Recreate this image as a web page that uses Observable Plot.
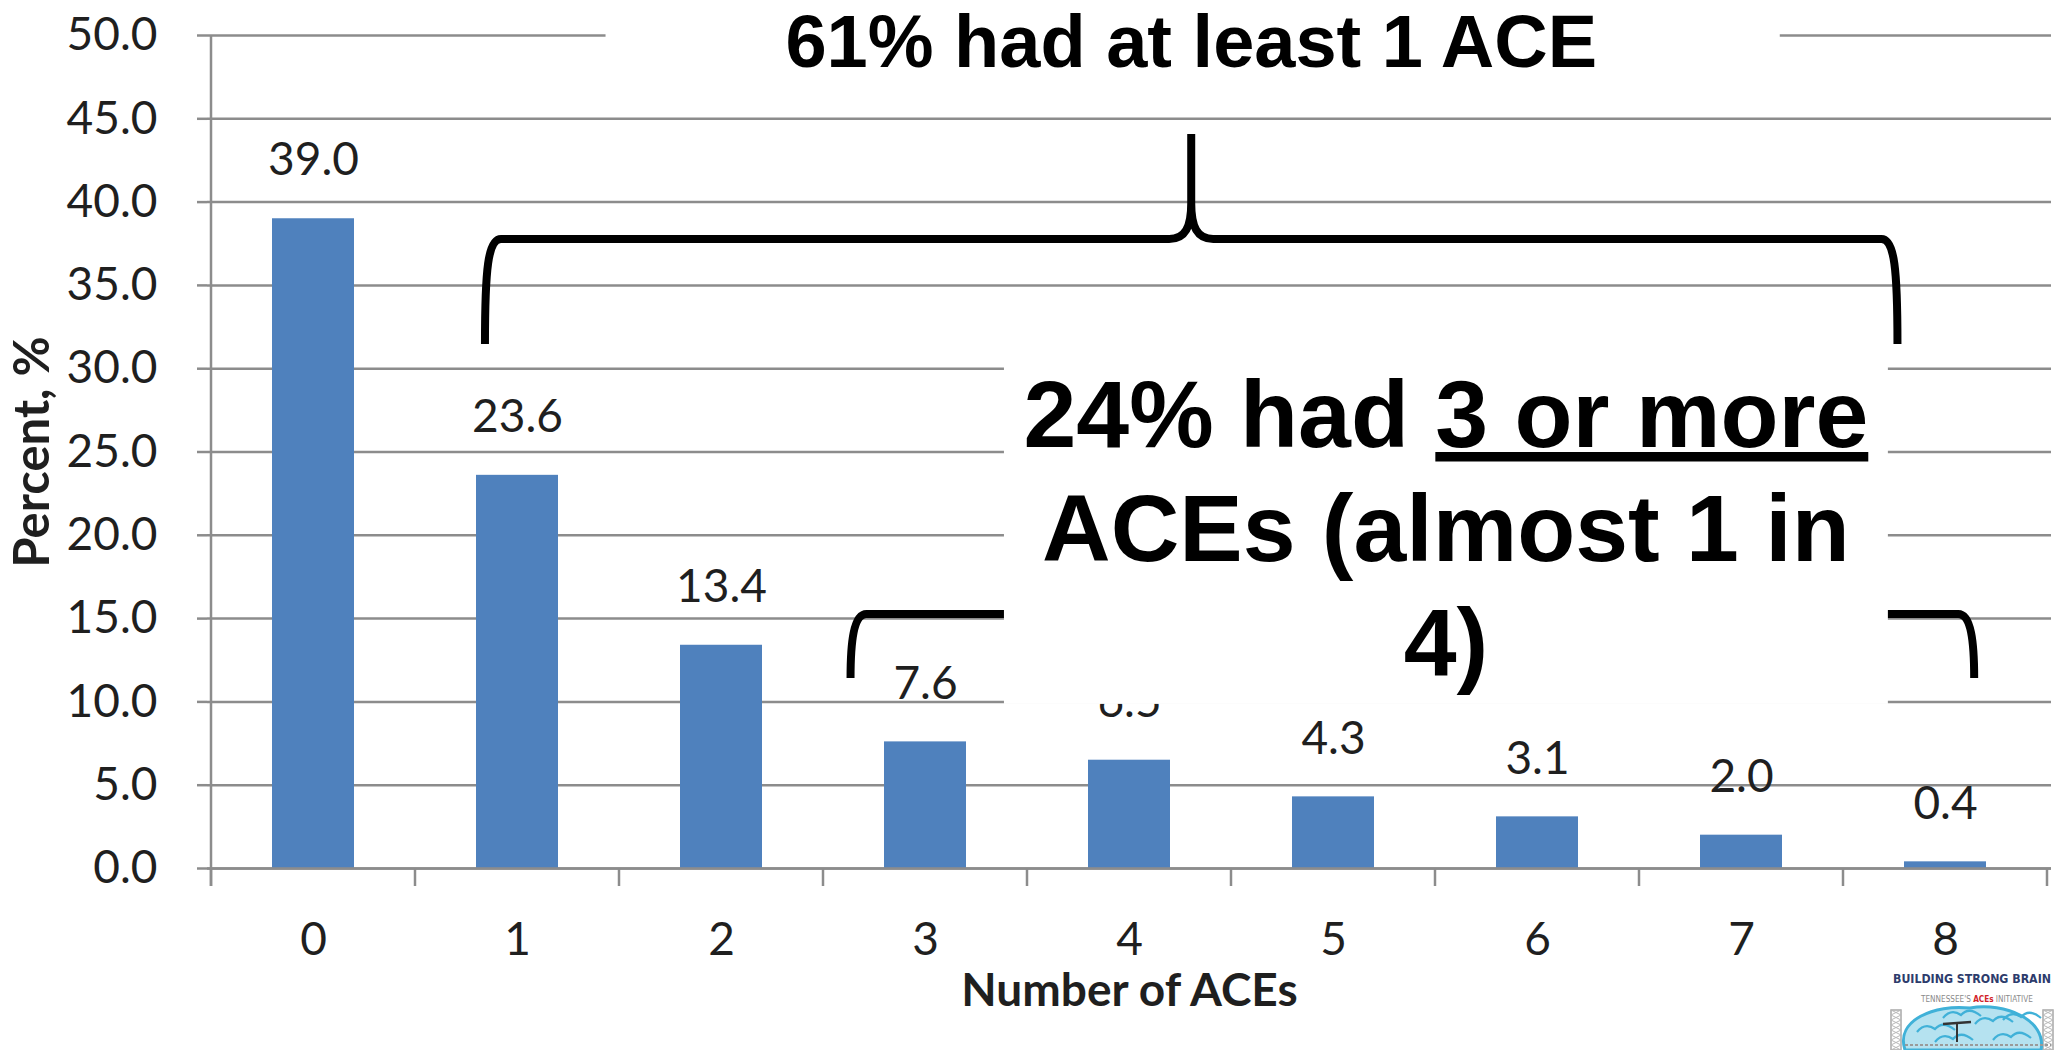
<!DOCTYPE html>
<html>
<head>
<meta charset="utf-8">
<script src="https://cdn.jsdelivr.net/npm/d3@7"></script>
<script src="https://cdn.jsdelivr.net/npm/@observablehq/plot@0.6"></script>
<style>
  html, body { margin: 0; padding: 0; background: #fff; }
  #chart svg { display: block; }
</style>
</head>
<body>
<div id="chart"></div>
<script>
// ---- data ----
const categories = ["0", "1", "2", "3", "4", "5", "6", "7", "8"];
const percents = [39.0, 23.6, 13.4, 7.6, 6.5, 4.3, 3.1, 2.0, 0.4];
const yTicks = [0, 5, 10, 15, 20, 25, 30, 35, 40, 45, 50];
const xTitle = "Number of ACEs";
const yTitle = "Percent, %";
const note1 = "61% had at least 1 ACE";
const note2Lines = [["24% had ", "3 or more"], ["ACEs (almost 1 in"], ["4)"]];
const logoTitle = "BUILDING STRONG BRAIN";
const logoSub = ["TENNESSEE'S ", "ACEs", " INITIATIVE"];

const table = categories.map((n, i) => ({n, pct: percents[i]}));

// ---- annotation anchors (category + fraction of a band step, y in percent) ----
const brace1 = {from: ["1", -0.157], to: ["8", -0.233], top: 37.75, end: 31.45, peak: 44.06};
const brace2 = {from: ["3", -0.365], to: ["8", 0.143], top: 15.25, end: 11.4, peak: 20};
const note1Box = {from: ["1", 0.434], to: ["7", 0.19], y1: 46.3, y2: 53, baseline: 48.1};
const note2Box = {from: ["3", 0.387], to: ["7", 0.72], y1: 9.85, y2: 31.1, baselines: [25.27, 18.43, 11.58]};

const gridColor = "#8c8c8c";
const barColor = "#4f81bd";
const textColor = "#1f1f1f";
const noteFont = "'Liberation Sans', Arial, sans-serif";

function helpers(x) {
  const bw = x.bandwidth();
  const step = x(categories[1]) - x(categories[0]);
  const px = ([c, f]) => x(c) + bw / 2 + f * step;
  return {bw, step, px};
}

function axisDecor(index, scales) {
  const {x, y} = scales;
  const {bw, step} = helpers(x);
  const gap = (step - bw) / 2;
  const y0 = y(0);
  const edges = categories.map(c => x(c) - gap).concat([x(categories[categories.length - 1]) + bw + gap]);
  const g = d3.create("svg:g").attr("stroke", gridColor).attr("stroke-width", 2.5);
  g.selectAll("line.t").data(edges).join("line").attr("class", "t")
    .attr("x1", d => d).attr("x2", d => d).attr("y1", y0).attr("y2", y0 + 18);
  g.append("line").attr("x1", edges[0]).attr("x2", edges[0]).attr("y1", y(yTicks[yTicks.length - 1])).attr("y2", y0 + 18);
  return g.node();
}

function bracePath(b, x, y) {
  const {px} = helpers(x);
  const L = px(b.from), R = px(b.to), C = (L + R) / 2;
  const T = y(b.top), B = y(b.end), P = y(b.peak);
  const k = Math.min(30, (B - T) * 0.45);
  return [
    `M${L},${B} C${L},${T + k} ${L + 3},${T} ${L + 16},${T}`,
    `H${C - 22} C${C - 6},${T} ${C},${T - 12} ${C},${T - 36} V${P}`,
    `M${C},${T - 36} C${C},${T - 12} ${C + 6},${T} ${C + 22},${T}`,
    `H${R - 16} C${R - 3},${T} ${R},${T + k} ${R},${B}`
  ].join(" ");
}

function annotations(index, scales) {
  const {x, y} = scales;
  const {px} = helpers(x);
  const g = d3.create("svg:g");
  g.append("path").attr("d", bracePath(brace1, x, y)).attr("fill", "none").attr("stroke", "#000").attr("stroke-width", 8);
  g.append("path").attr("d", bracePath(brace2, x, y)).attr("fill", "none").attr("stroke", "#000").attr("stroke-width", 8);
  const n1x1 = px(note1Box.from), n1x2 = px(note1Box.to);
  g.append("rect").attr("x", n1x1).attr("width", n1x2 - n1x1)
    .attr("y", y(note1Box.y2)).attr("height", y(note1Box.y1) - y(note1Box.y2)).attr("fill", "#fff");
  const c1 = (px(brace1.from) + px(brace1.to)) / 2;
  g.append("text").attr("x", c1).attr("y", y(note1Box.baseline))
    .attr("text-anchor", "middle").attr("font-family", noteFont).attr("font-weight", "bold")
    .attr("font-size", 74).attr("fill", "#000").text(note1);
  const n2x1 = px(note2Box.from), n2x2 = px(note2Box.to);
  g.append("rect").attr("x", n2x1).attr("width", n2x2 - n2x1)
    .attr("y", y(note2Box.y2)).attr("height", y(note2Box.y1) - y(note2Box.y2)).attr("fill", "#fff");
  const c2 = (n2x1 + n2x2) / 2;
  note2Lines.forEach((parts, i) => {
    const t = g.append("text").attr("x", c2).attr("y", y(note2Box.baselines[i]))
      .attr("text-anchor", "middle").attr("font-family", noteFont).attr("font-weight", "bold")
      .attr("font-size", 95).attr("fill", "#000").style("white-space", "pre");
    parts.forEach((p, j) => {
      const s = t.append("tspan").text(p);
      if (i === 0 && j === 1) s.style("text-decoration", "underline");
    });
  });
  return g.node();
}

function logo(index, scales, values, dims) {
  const W = dims.width, H = dims.height;
  const g = d3.create("svg:g").attr("text-anchor", "start");
  // scaffolding
  [[W - 164, 10], [W - 12, 10]].forEach(([sx, sw]) => {
    g.append("rect").attr("x", sx).attr("y", H - 40).attr("width", sw).attr("height", 40)
      .attr("fill", "none").attr("stroke", "#a8a8a8").attr("stroke-width", 1.5);
    g.append("path").attr("d", d3.range(0, 40, 5).map(o => `M${sx},${H - 40 + o} l${sw},5 M${sx + sw},${H - 40 + o} l${-sw},5`).join(" "))
      .attr("stroke", "#b8b8b8").attr("stroke-width", 1).attr("fill", "none");
  });
  // brain
  g.append("path")
    .attr("d", `M${W - 150},${H} C${W - 160},${H - 30} ${W - 120},${H - 46} ${W - 85},${H - 42} C${W - 50},${H - 48} ${W - 8},${H - 30} ${W - 14},${H} Z`)
    .attr("fill", "#b5e2f0").attr("stroke", "#40b1d8").attr("stroke-width", 3);
  const folds = [[W - 138, H - 18], [W - 112, H - 32], [W - 80, H - 26], [W - 52, H - 30], [W - 120, H - 8], [W - 62, H - 10]];
  folds.forEach(([a, b]) => {
    g.append("path").attr("d", `M${a},${b} q8,-10 18,-3 q8,-9 20,1`).attr("fill", "none")
      .attr("stroke", "#40b1d8").attr("stroke-width", 2.2);
  });
  // workers
  g.append("line").attr("x1", W - 112).attr("x2", W - 84).attr("y1", H - 26).attr("y2", H - 28).attr("stroke", "#333").attr("stroke-width", 2.5);
  g.append("line").attr("x1", W - 98).attr("x2", W - 98).attr("y1", H - 27).attr("y2", H - 8).attr("stroke", "#333").attr("stroke-width", 2);
  g.append("line").attr("x1", W - 150).attr("x2", W - 4).attr("y1", H - 5).attr("y2", H - 5)
    .attr("stroke", "#9a9a9a").attr("stroke-width", 2).attr("stroke-dasharray", "3,2");
  // texts (font size fitted to width after mounting)
  g.append("text").attr("class", "logo-fit").attr("data-fit", 158).attr("x", W - 162).attr("y", H - 67)
    .attr("font-family", "'Liberation Sans Narrow', 'DejaVu Sans Condensed', sans-serif").attr("font-weight", "bold")
    .attr("font-size", 14).attr("fill", "#2d3c6c").text(logoTitle);
  const t = g.append("text").attr("class", "logo-fit").attr("data-fit", 112).attr("x", W - 134).attr("y", H - 48)
    .attr("font-family", "'Liberation Sans Narrow', 'DejaVu Sans Condensed', sans-serif").attr("font-size", 9).attr("fill", "#8a8a8a")
    .style("white-space", "pre");
  logoSub.forEach((p, i) => {
    const s = t.append("tspan").text(p);
    if (i === 1) s.attr("fill", "#d2232a").attr("font-weight", "bold");
  });
  return g.node();
}

const chart = Plot.plot({
  width: 2055,
  height: 1050,
  marginTop: 35,
  marginLeft: 207,
  marginRight: 4,
  marginBottom: 182,
  style: {fontFamily: "Lato, sans-serif", fontSize: "46px", color: textColor, background: "#fff"},
  x: {domain: categories, paddingInner: 0.6, paddingOuter: 0.3},
  y: {domain: [0, 50]},
  marks: [
    Plot.gridY(yTicks, {stroke: gridColor, strokeOpacity: 1, strokeWidth: 2.5}),
    Plot.axisY({ticks: yTicks, tickFormat: d => d.toFixed(1), tickSize: 10, tickPadding: 40,
      stroke: gridColor, strokeWidth: 2.5, fill: textColor, label: null, fontSize: 46}),
    Plot.axisX({tickSize: 0, tickPadding: 54, fill: textColor, label: null, fontSize: 46}),
    Plot.barY(table, {x: "n", y: "pct", fill: barColor}),
    Plot.ruleY([0], {stroke: gridColor, strokeWidth: 2.5}),
    axisDecor,
    Plot.text(table, {x: "n", y: "pct", text: d => d.pct.toFixed(1), dy: -58, fill: textColor, fontSize: 46}),
    annotations,
    Plot.text([xTitle], {frameAnchor: "bottom", dy: 137, fontWeight: "bold", fontSize: 46, fill: textColor}),
    Plot.text([yTitle], {frameAnchor: "left", textAnchor: "middle", dx: -174, rotate: -90, fontWeight: "bold", fontSize: 49, fill: textColor}),
    logo
  ]
});
document.getElementById("chart").appendChild(chart);

// fit the small logo texts to their widths
d3.select(chart).selectAll("text.logo-fit").each(function () {
  const target = +this.getAttribute("data-fit");
  const fs = +this.getAttribute("font-size");
  const len = this.getComputedTextLength();
  if (len > 0) this.setAttribute("font-size", (fs * target / len).toFixed(2));
});
</script>
</body>
</html>
